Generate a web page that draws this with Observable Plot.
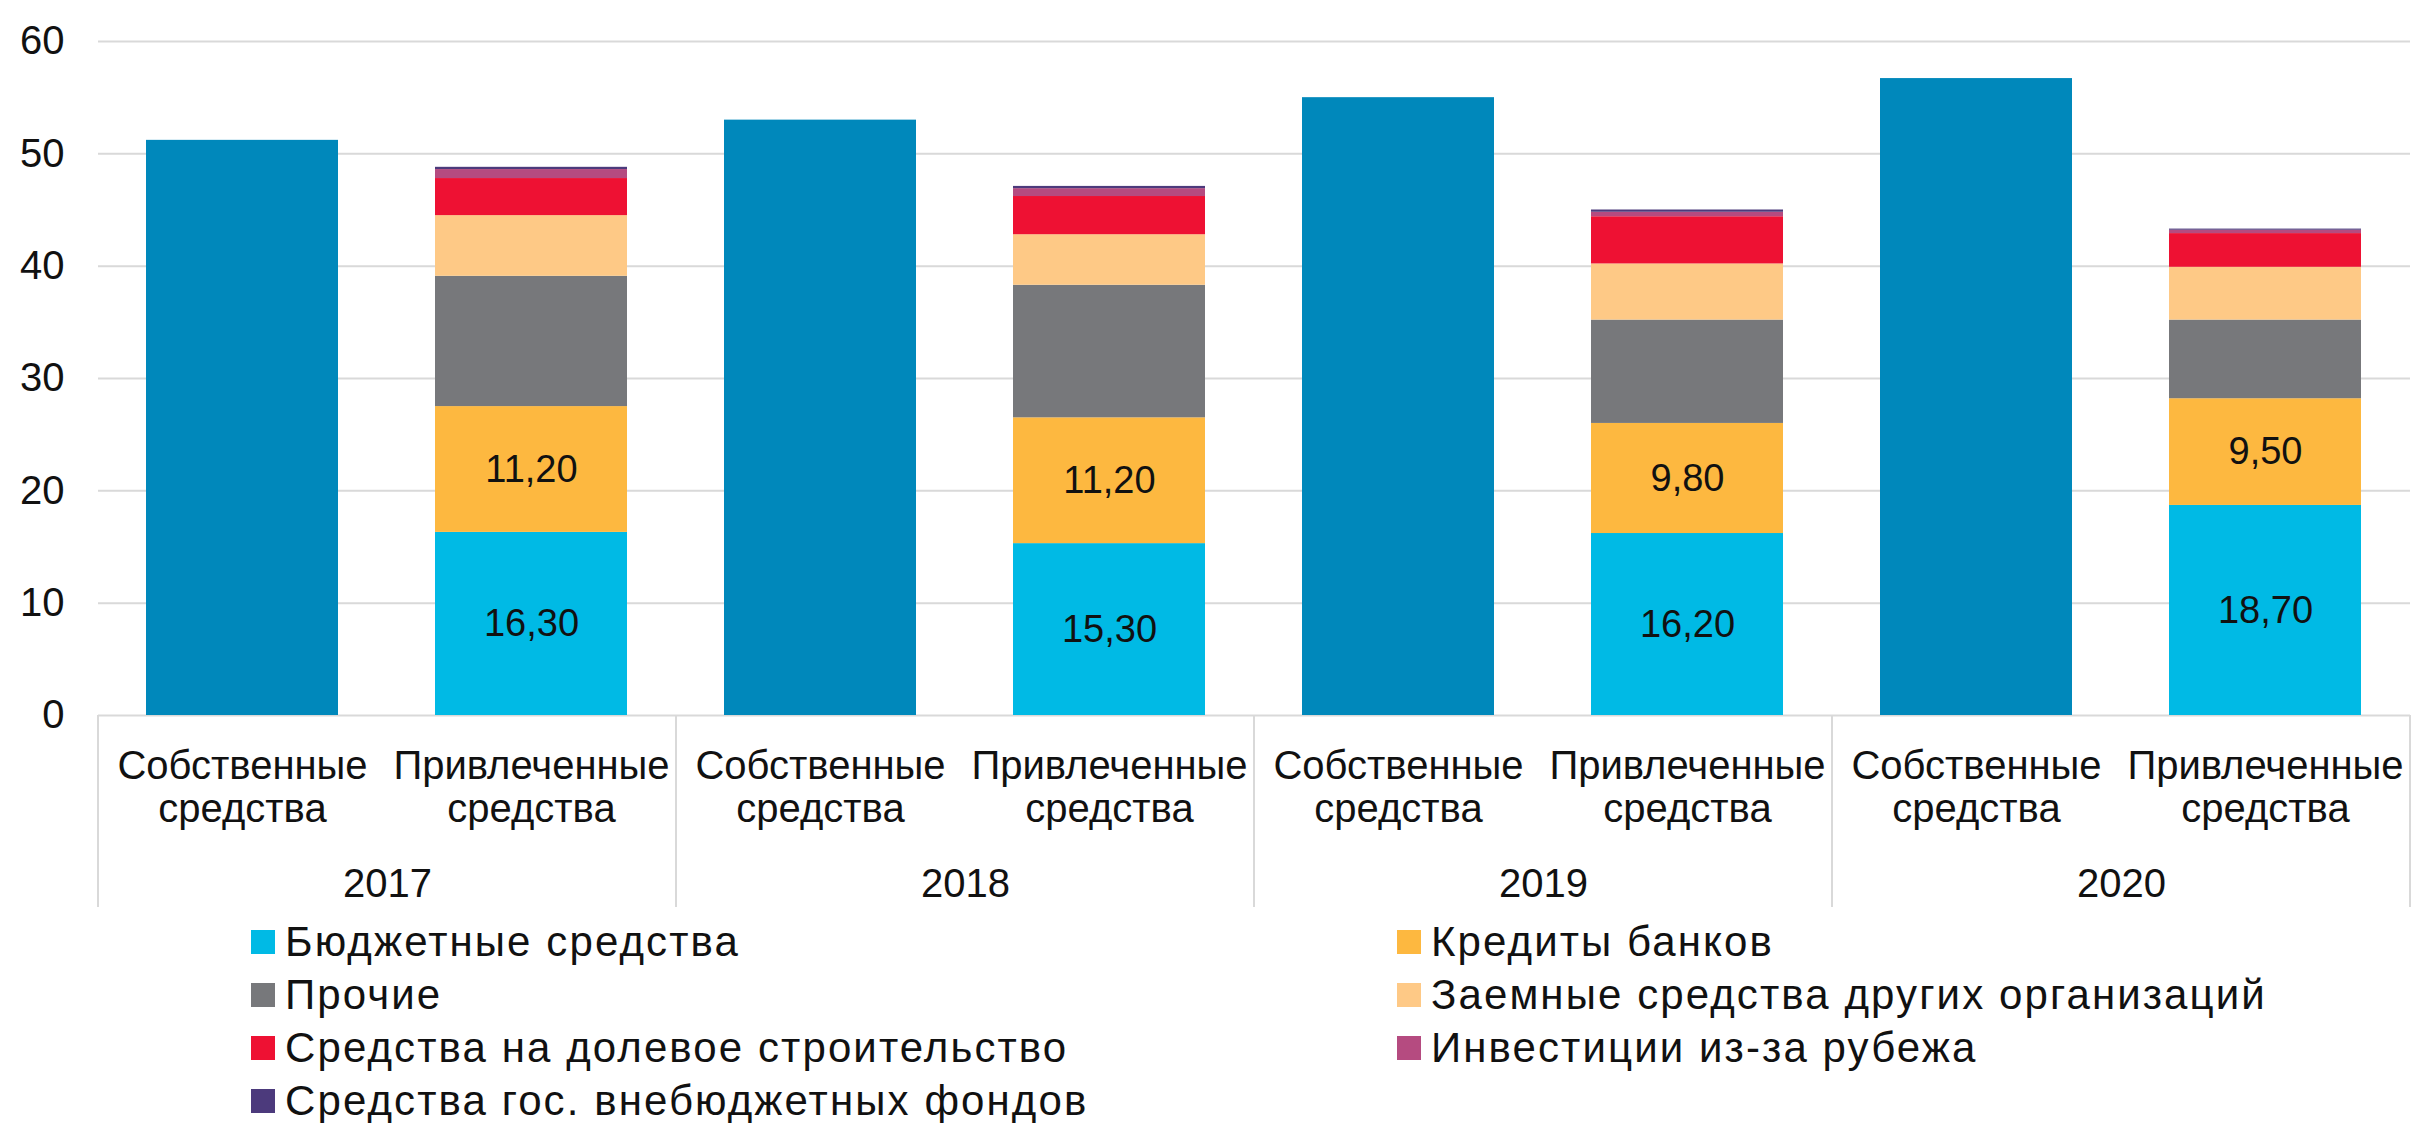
<!DOCTYPE html>
<html>
<head>
<meta charset="utf-8">
<script src="https://cdn.jsdelivr.net/npm/d3@7"></script>
<script src="https://cdn.jsdelivr.net/npm/@observablehq/plot@0.6"></script>
<style>
  html, body { margin: 0; padding: 0; background: #fff; overflow: hidden; }
  #chart svg { display: block; }
  .legend { margin-left: 251px; display: grid; grid-template-columns: 1146px auto; grid-auto-rows: 53px;
            font-family: "Liberation Sans", Arial, sans-serif; font-size: 42px; letter-spacing: 2.1px; color: #111; }
  .legend .item { display: flex; align-items: center; white-space: nowrap; }
  .legend .sw { width: 24px; height: 24px; margin-right: 10px; flex: none; }
</style>
</head>
<body>
<div id="chart"></div>
<div class="legend" id="legend"></div>
<script>
// ---- data ----
const years = ["2017", "2018", "2019", "2020"];
const fundTypes = ["Собственные средства", "Привлеченные средства"];
const ownLabel = "Собственные средства";
const ownFunds = [51.2, 53.0, 55.0, 56.7];

const seriesNames = [
  "Бюджетные средства",
  "Кредиты банков",
  "Прочие",
  "Заемные средства других организаций",
  "Средства на долевое строительство",
  "Инвестиции из-за рубежа",
  "Средства гос. внебюджетных фондов"
];
const budgetFunds   = [16.3, 15.3, 16.2, 18.7];
const bankCredits   = [11.2, 11.2, 9.8, 9.5];
const otherFunds    = [11.6, 11.8, 9.2, 7.0];
const orgLoans      = [5.4, 4.5, 5.0, 4.7];
const sharedBuild   = [3.3, 3.4, 4.2, 3.0];
const foreignInv    = [0.8, 0.7, 0.4, 0.3];
const offBudgetFund = [0.2, 0.2, 0.2, 0.1];
const labeledSeries = ["Бюджетные средства", "Кредиты банков"];
const yTicks = [0, 10, 20, 30, 40, 50, 60];

const ownColor = "#0088bb";
const seriesColors = ["#00bae5", "#fdb840", "#77787b", "#fec986", "#ee1133", "#b54b80", "#4c3a7c"];

// ---- table ----
const seriesValues = [budgetFunds, bankCredits, otherFunds, orgLoans, sharedBuild, foreignInv, offBudgetFund];
const data = [];
years.forEach((yr, i) => {
  data.push({year: yr, type: fundTypes[0], series: ownLabel, value: ownFunds[i]});
  seriesValues.forEach((vals, k) => data.push({year: yr, type: fundTypes[1], series: seriesNames[k], value: vals[i]}));
});
const fmt = v => v.toFixed(2).replace(".", ",");
const font = "\"Liberation Sans\", Arial, sans-serif";
const stackOrder = [ownLabel, ...seriesNames];

const plot = Plot.plot({
  width: 2412,
  height: 915,
  marginTop: 41,
  marginLeft: 97,
  marginRight: 2,
  marginBottom: 200,
  style: {fontFamily: font, fontSize: "40px", color: "#111", background: "#fff", overflow: "visible"},
  fx: {domain: years, padding: 0, axis: null, label: null},
  x: {domain: fundTypes, paddingInner: 0.335, paddingOuter: 0.1675, axis: null, label: null},
  y: {domain: [0, 60], axis: null, label: null},
  color: {domain: stackOrder, range: [ownColor, ...seriesColors]},
  marks: [
    Plot.gridY(yTicks, {stroke: "#d9d9d9", strokeOpacity: 1, strokeWidth: 2}),
    Plot.axisY(yTicks, {tickSize: 0, tickPadding: 34, label: null, fontSize: 40}),
    Plot.barY(data, Plot.stackY({fx: "year", x: "type", y: "value", fill: "series", order: stackOrder})),
    Plot.text(data, Plot.stackY({
      fx: "year", x: "type", y: "value", z: "series", order: stackOrder,
      text: d => labeledSeries.includes(d.series) ? fmt(d.value) : "",
      fill: "#111", fontSize: 38
    })),
    Plot.axisX({tickSize: 0, tickPadding: 33, label: null, lineHeight: 1.08, fontSize: 40,
                tickFormat: d => d.replace(" ", "\n")}),
    Plot.text(years, {fx: d => d, text: d => d, frameAnchor: "bottom", dy: 181, fontSize: 40, fill: "#111"})
  ]
});
document.getElementById("chart").appendChild(plot);

// group separators below the category axis, placed with the fx scale
const fx = plot.scale("fx");
const y0 = plot.scale("y").apply(0);
const svg = d3.select(plot.tagName.toLowerCase() === "svg" ? plot : plot.querySelector("svg"));
const edges = years.map(yr => fx.apply(yr)).concat([fx.apply(years[years.length - 1]) + fx.bandwidth]);
svg.append("g").selectAll("line").data(edges).join("line")
  .attr("x1", d => d).attr("x2", d => d)
  .attr("y1", y0).attr("y2", y0 + 192)
  .attr("stroke", "#d9d9d9").attr("stroke-width", 2);

// legend
const legend = document.getElementById("legend");
seriesNames.forEach((name, i) => {
  const it = document.createElement("div");
  it.className = "item";
  it.innerHTML = `<span class="sw" style="background:${seriesColors[i]}"></span><span>${name}</span>`;
  legend.appendChild(it);
});
</script>
</body>
</html>
